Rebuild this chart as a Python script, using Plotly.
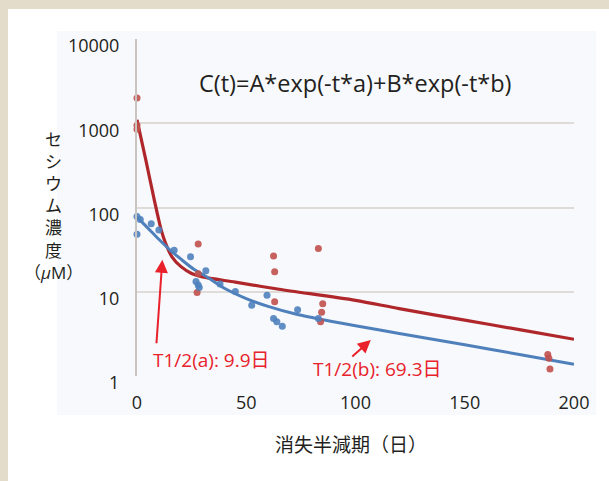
import plotly.graph_objects as go
import math

# ---------------- data ----------------
red_t = [0, 0, 0, 28, 28, 27.5, 62.5, 63, 63, 83, 85, 84.5, 84, 188, 188.5, 189]
red_v = [2000, 950, 850, 37, 16.3, 9.8, 26.6, 17.3, 7.6, 32.5, 7.2, 5.7, 4.4, 1.8, 1.62, 1.21]

blue_t = [0, 1.5, 0, 6.5, 10, 17, 24.5, 31.5, 27, 28, 28.5, 38, 45, 52.5, 59.5, 62.5, 64, 66.5, 73.5, 83]
blue_v = [78, 72, 48, 64, 54, 31, 26, 17.8, 13.2, 12, 11.2, 12.4, 10.1, 6.9, 9.1, 4.8, 4.4, 3.9, 6.1, 4.8]

red_fit_t = [0, 4, 8, 11, 13, 16, 20, 25, 30, 45, 65, 100, 120, 150, 175, 200]
red_fit_v = [1100, 370, 120, 55, 38, 26, 20, 16.5, 15.0, 13.0, 10.7, 7.9, 6.3, 4.6, 3.55, 2.73]

blue_fit_t = [0, 5, 10, 15, 20, 26, 32, 40, 50, 60, 73, 88, 100, 120, 150, 175, 200]
blue_fit_v = [77, 57, 42, 31.5, 24.5, 18.5, 15, 11.0, 8.3, 6.7, 5.4, 4.5, 3.95, 3.2, 2.35, 1.8, 1.38]

y_tick_vals = [1, 10, 100, 1000, 10000]
y_tick_text = ["1", "10", "100", "1000", "10000"]
x_tick_vals = [0, 50, 100, 150, 200]

formula = "C(t)=A*exp(-t*a)+B*exp(-t*b)"
half_a = "T1/2(a): 9.9日"
half_b = "T1/2(b): 69.3日"
y_title_lines = ["セ", "シ", "ウ", "ム", "濃", "度", "（<i>μ</i>M）"]
x_title = "消失半減期（日）"

# ---------------- layout geometry ----------------
W, H = 609, 481
L, R, T, B = 137, 574, 39, 376  # plot area in pixels

def px(xp):
    return (xp - L) / (R - L)

def py(yp):
    return (B - yp) / (B - T)

FONT = "Open Sans, Noto Sans CJK JP, sans-serif"
RED_TXT = "#e8212b"
DARK = "#231f20"

fig = go.Figure()

fig.add_trace(go.Scatter(x=red_fit_t, y=red_fit_v, mode="lines",
                         line=dict(color="#b0272b", width=3.2, shape="spline", smoothing=0.8),
                         hoverinfo="skip", showlegend=False))
fig.add_trace(go.Scatter(x=blue_fit_t, y=blue_fit_v, mode="lines",
                         line=dict(color="#4f80bb", width=3, shape="spline", smoothing=0.8),
                         hoverinfo="skip", showlegend=False))
fig.add_trace(go.Scatter(x=red_t, y=red_v, mode="markers", cliponaxis=False,
                         marker=dict(color="#c0504d", size=7, opacity=0.9),
                         showlegend=False))
fig.add_trace(go.Scatter(x=blue_t, y=blue_v, mode="markers", cliponaxis=False,
                         marker=dict(color="#4f81bd", size=7, opacity=0.9),
                         showlegend=False))

shapes = [
    dict(type="rect", xref="paper", yref="paper", layer="below",
         x0=px(8), x1=px(W + 5), y0=py(9), y1=py(H + 5),
         fillcolor="#ffffff", line=dict(width=0)),
    dict(type="rect", xref="paper", yref="paper", layer="below",
         x0=px(57), x1=px(596), y0=py(31), y1=py(415),
         fillcolor="#f7f9fc", line=dict(width=0)),
]


def label(text, xp, yp, size, color=DARK, **kw):
    d = dict(text=text, xref="paper", yref="paper", x=px(xp), y=py(yp),
             xanchor="center", yanchor="middle", showarrow=False,
             font=dict(size=size, color=color, family=FONT))
    d.update(kw)
    return d


ann = []
ann.append(label(formula, 355.5, 83, 23.5))
ann.append(label(half_a, 211, 360, 19, RED_TXT))
ann.append(label(half_b, 377.5, 369, 19, RED_TXT))
# arrows (head positioned in data coords; log axis uses log10 values)
ann.append(dict(text="", x=11.6, y=math.log10(24), ax=-6, ay=85,
                showarrow=True, arrowhead=2, arrowsize=1.3, arrowwidth=2, arrowcolor=RED_TXT))
ann.append(dict(text="", x=107, y=math.log10(2.68), ax=-20, ay=18,
                showarrow=True, arrowhead=2, arrowsize=1.3, arrowwidth=2, arrowcolor=RED_TXT))
# y-axis title, stacked vertical characters in one block
ann.append(label("<br>".join(y_title_lines), 53, 206, 17, borderpad=0))
ann.append(label(x_title, 351, 445, 19))

fig.update_layout(
    width=W, height=H,
    margin=dict(l=L, r=W - R, t=T, b=H - B, pad=0),
    paper_bgcolor="#e3dccb",
    plot_bgcolor="rgba(0,0,0,0)",
    shapes=shapes,
    annotations=ann,
    font=dict(family=FONT, color=DARK),
    xaxis=dict(range=[0, 200], tickvals=x_tick_vals, showgrid=False, zeroline=False,
               showline=False, ticks="", ticklabelstandoff=14,
               tickfont=dict(size=18, color=DARK, family=FONT)),
    yaxis=dict(type="log", range=[0, 4], tickvals=y_tick_vals, ticktext=y_tick_text,
               showgrid=True, gridcolor="#dedbd8", gridwidth=2, zeroline=False,
               showline=True, linecolor="#c8c4c0", linewidth=2, mirror=False,
               ticks="", ticklabelstandoff=12, ticklabelshift=7,
               tickfont=dict(size=18, color=DARK, family=FONT)),
)

fig.write_html("out.html")
